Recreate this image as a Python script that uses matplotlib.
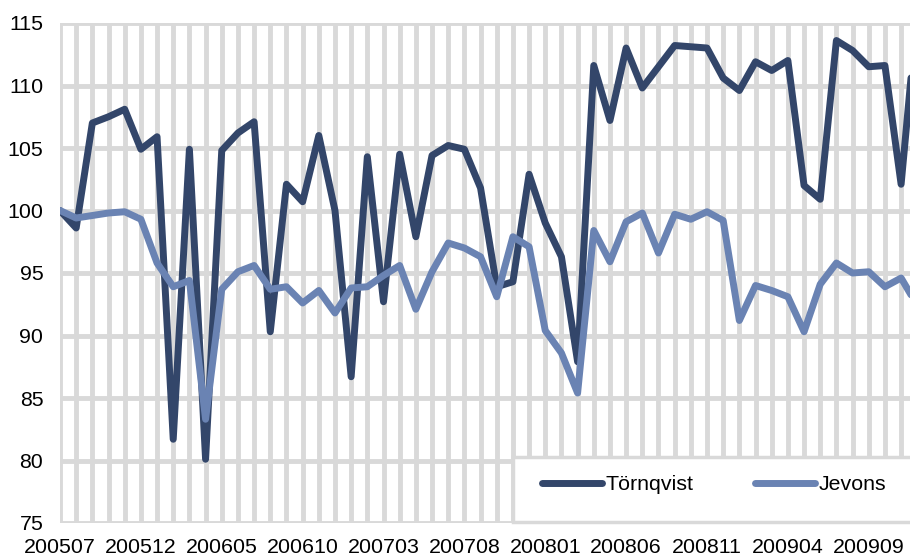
import matplotlib
matplotlib.use('Agg')
import matplotlib.pyplot as plt
from matplotlib.patches import Rectangle

plt.rcParams.update({
    'font.family': ['Liberation Sans', 'DejaVu Sans'],
    'font.size': 15.4,
})

# Monthly index values, 200507 onwards
tick_labels = ['200507', '200512', '200605', '200610', '200703', '200708',
               '200801', '200806', '200811', '200904', '200909']

tornqvist = [100.0, 98.6, 107.0, 107.5, 108.1, 104.9, 105.9, 81.7, 104.9, 80.1,
             104.8, 106.2, 107.1, 90.3, 102.1, 100.7, 106.0, 100.0, 86.7, 104.3,
             92.7, 104.5, 97.9, 104.4, 105.2, 104.9, 101.8, 93.9, 94.3, 102.9,
             99.0, 96.3, 87.9, 111.6, 107.2, 113.0, 109.8, 111.5, 113.2, 113.1,
             113.0, 110.6, 109.6, 111.9, 111.2, 112.0, 102.0, 100.9, 113.6, 112.8,
             111.5, 111.6, 102.1, 116.0]

jevons = [100.0, 99.4, 99.6, 99.8, 99.9, 99.3, 95.8, 93.9, 94.4, 83.3,
          93.7, 95.1, 95.6, 93.7, 93.9, 92.6, 93.6, 91.8, 93.8, 93.9,
          94.8, 95.6, 92.1, 95.1, 97.4, 97.0, 96.3, 93.1, 97.9, 97.1,
          90.4, 88.6, 85.4, 98.4, 95.9, 99.1, 99.8, 96.6, 99.7, 99.3,
          99.9, 99.2, 91.2, 94.0, 93.6, 93.1, 90.3, 94.1, 95.8, 95.0,
          95.1, 93.9, 94.6, 92.4]

months = list(range(len(tornqvist)))

COL_T = '#33466a'
COL_J = '#6a83b3'
GRID = '#d9d9d9'

fig = plt.figure(figsize=(9.1, 5.58), dpi=100)
ax = fig.add_axes([60 / 910, 35 / 558, 1 - 60 / 910, 500 / 558])

# grid: one vertical line per month, horizontal every 5
for m in months:
    ax.axvline(m, color=GRID, linewidth=3.5, zorder=1)
for v in range(75, 116, 5):
    ax.axhline(v, color=GRID, linewidth=3.5, zorder=1)

ax.plot(months, tornqvist, color=COL_T, linewidth=5.0, zorder=3,
        solid_capstyle='round', label='Törnqvist')
ax.plot(months, jevons, color=COL_J, linewidth=5.0, zorder=3,
        solid_capstyle='round', label='Jevons')

ax.set_xlim(0, 52.55)
ax.set_ylim(75, 115)
ax.set_yticks(range(75, 116, 5))
ax.set_xticks(range(0, 51, 5))
ax.set_xticklabels(tick_labels)
ax.tick_params(axis='both', length=0)
ax.tick_params(axis='y', pad=12)
ax.tick_params(axis='x', pad=11)
for s in ax.spines.values():
    s.set_visible(False)

# legend box (cropped on the right like the original)
box = Rectangle(((513 - 60) / 850, 1 / 500), 1.0, 65 / 500,
                transform=ax.transAxes, facecolor='white', edgecolor=GRID,
                linewidth=2.5, zorder=4, clip_on=False)
ax.add_patch(box)
leg = ax.legend(loc='center left', bbox_to_anchor=((542 - 60) / 850, 38 / 500),
                ncol=2, frameon=False, borderpad=0, borderaxespad=0,
                handlelength=2.8, handletextpad=0.15, columnspacing=2.9,
                fontsize=15.4)
leg.set_zorder(5)

fig.savefig('out.png', dpi=100)
